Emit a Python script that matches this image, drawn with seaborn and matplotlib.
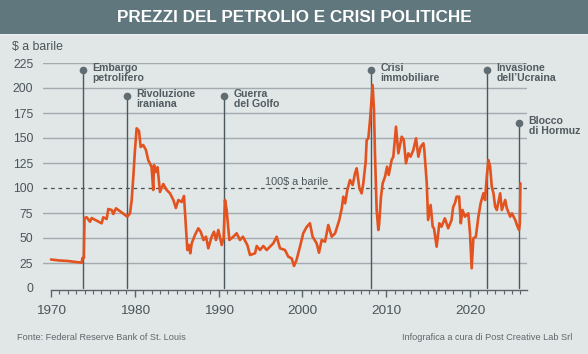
import matplotlib
matplotlib.use("Agg")
import matplotlib.pyplot as plt
from matplotlib.patches import Rectangle
from matplotlib.ticker import MultipleLocator
import seaborn as sns

years = [1970.0, 1971.0, 1972.0, 1973.0, 1973.66, 1973.75, 1973.92, 1974.0,
         1974.26, 1974.65, 1974.85, 1976.04, 1976.24, 1976.64, 1976.84, 1977.24,
         1977.44, 1977.76, 1979.0, 1979.11, 1979.43, 1979.63, 1979.82, 1980.02,
         1980.22, 1980.5, 1980.7, 1981.0, 1981.33, 1981.6, 1982.0, 1982.2,
         1982.29, 1982.53, 1982.72, 1983.0, 1983.4, 1983.8, 1984.2, 1984.6,
         1984.9, 1985.2, 1985.6, 1985.87, 1986.1, 1986.27, 1986.45, 1986.62,
         1986.79, 1987.18, 1987.58, 1987.86, 1988.2, 1988.5, 1988.77, 1989.17,
         1989.45, 1989.69, 1989.97, 1990.37, 1990.6, 1990.76, 1990.96, 1991.28,
         1991.76, 1992.15, 1992.55, 1992.9, 1993.43, 1993.75, 1994.35, 1994.55,
         1994.94, 1995.34, 1995.74, 1996.13, 1996.53, 1996.93, 1997.33, 1997.92,
         1998.32, 1998.71, 1999.0, 1999.3, 1999.71, 2000.1, 2000.5, 2000.9,
         2001.22, 2001.7, 2001.98, 2002.3, 2002.7, 2003.09, 2003.5, 2003.9,
         2004.4, 2004.7, 2004.88, 2005.1, 2005.36, 2005.68, 2006.0, 2006.28,
         2006.48, 2006.8, 2007.07, 2007.27, 2007.55, 2007.67, 2007.87, 2008.07,
         2008.38, 2008.54, 2008.66, 2008.86, 2009.06, 2009.15, 2009.38, 2009.58,
         2009.86, 2010.1, 2010.3, 2010.65, 2010.85, 2011.17, 2011.45, 2011.85,
         2012.1, 2012.36, 2012.64, 2012.9, 2013.24, 2013.56, 2013.84, 2014.12,
         2014.44, 2014.55, 2014.84, 2015.0, 2015.3, 2015.55, 2015.7, 2016.02,
         2016.34, 2016.6, 2017.0, 2017.4, 2017.8, 2018.0, 2018.2, 2018.4,
         2018.7, 2018.9, 2019.1, 2019.4, 2019.8, 2020.0, 2020.2, 2020.4,
         2020.7, 2021.0, 2021.27, 2021.6, 2021.8, 2022.0, 2022.2, 2022.4,
         2022.6, 2022.8, 2023.0, 2023.2, 2023.6, 2023.8, 2024.2, 2024.4,
         2024.8, 2025.0, 2025.4, 2025.6, 2025.85, 2025.95, 2026.02]
prices = [28.5, 27.5, 27, 26, 25.3, 30, 30, 70,
          70.7, 66.3, 70, 64.7, 70.7, 69, 79, 78,
          74, 79.7, 72, 71.3, 74.7, 88, 111, 138,
          159.7, 157, 141, 143, 138, 128, 121, 98,
          123, 116, 120.7, 96, 104, 98, 94.7, 88,
          80, 88, 86, 92, 61, 38, 43, 34.7,
          44.7, 53, 59.7, 56.3, 48, 51.3, 39.7, 51.3,
          56.3, 48, 58, 43, 50, 88, 78, 48,
          51.3, 54.7, 48, 51.3, 43, 33, 34.7, 42,
          38, 42, 38, 41.3, 44.7, 51.3, 39.7, 38,
          31.3, 29.7, 22, 28, 41.3, 54.7, 61, 64.7,
          51.3, 44.7, 35.3, 48, 46.3, 63, 51.3, 54.7,
          68, 79.7, 91.3, 84.7, 98, 108, 103, 114.7,
          119.7, 99.7, 94.7, 104.7, 126.3, 148, 149.7, 168,
          203, 178, 134.7, 78, 58, 63, 91.3, 104.7,
          111.3, 121.3, 113, 128, 131.3, 161.3, 134.7, 151.3,
          148, 124.7, 134.7, 131.3, 138, 149.7, 131.3, 141.3,
          144.7, 138, 104.7, 68, 83, 61.3, 59.7, 41.3,
          64.7, 61.3, 69.7, 59.7, 68, 81.3, 84.7, 91.3,
          91.3, 64.7, 78, 71.3, 74.7, 54.7, 19.7, 49.7,
          51.3, 71.3, 84.7, 94.7, 88, 111.3, 128, 121.3,
          101.3, 94.7, 81.3, 78, 94.7, 78, 88, 79.7,
          71.3, 74.7, 68, 63, 58, 64.7, 104.7]

event_years = [1973.82, 1979.07, 1990.64, 2008.15, 2022.03, 2025.85]
event_tops = [218, 192, 192, 218, 218, 165]
event_labels = ["Embargo\npetrolifero", "Rivoluzione\niraniana", "Guerra\ndel Golfo",
                "Crisi\nimmobiliare", "Invasione\ndell\u2019Ucraina", "Blocco\ndi Hormuz"]

y_ticks = [0, 25, 50, 75, 100, 125, 150, 175, 200, 225]
x_ticks = [1970, 1980, 1990, 2000, 2010, 2020]

BG = "#e1e6e7"
HEADER = "#5f777d"
ORANGE = "#e2531f"
TEXT = "#4b5559"
GRID = "#a3abae"
EVENT = "#4b585d"

sns.set_theme(style="white")
plt.rcParams["font.family"] = ["Liberation Sans", "DejaVu Sans"]

W, H = 588, 354
fig = plt.figure(figsize=(W / 100, H / 100), dpi=100)
fig.patch.set_facecolor(BG)

# header band
fig.add_artist(Rectangle((0, 1 - 34 / H), 1, 34 / H, transform=fig.transFigure,
                         facecolor=HEADER, edgecolor="none"))
fig.add_artist(Rectangle((0, 1 - 35 / H), 1, 1 / H, transform=fig.transFigure,
                         facecolor="#eef1f2", edgecolor="none"))
fig.text(0.5, 1 - 17.5 / H, "PREZZI DEL PETROLIO E CRISI POLITICHE",
         fontweight="bold", fontsize=12.3, color="white", ha="center", va="center")
fig.text(12 / W, 1 - 47 / H, "$ a barile", fontsize=8.8, color=TEXT, va="center")

ax = fig.add_axes([43 / W, 64 / H, 484 / W, 227 / H])
ax.set_facecolor(BG)

px_per_year = 8.38
ax.set_xlim(1970 - 8 / px_per_year, 1970 + 476 / px_per_year)
ax.set_ylim(-2, 225)

for v in y_ticks[1:]:
    if v == 100:
        ax.axhline(v, color="#4a4f52", lw=0.9, ls=(0, (3, 3)), zorder=1)
    else:
        ax.axhline(v, color=GRID, lw=1, zorder=1)
ax.text(1999.3, 106, "100$ a barile", fontsize=7.8, color=TEXT, ha="center", va="center")

# event markers
for x, top, lab in zip(event_years, event_tops, event_labels):
    ax.plot([x, x], [0, top], color=EVENT, lw=1, zorder=2)
    ax.plot(x, top, "o", ms=5.5, color="#5f6c71", mec="none", zorder=4, clip_on=False)
    ax.annotate(lab, (x, top), xytext=(7, 5), textcoords="offset points",
                ha="left", va="top", fontsize=7.6, fontweight="bold", color="#515b60",
                linespacing=0.95, annotation_clip=False)

sns.lineplot(x=years, y=prices, ax=ax, color=ORANGE, linewidth=1.9,
             estimator=None, sort=False, zorder=3)

for s in ["top", "right", "left"]:
    ax.spines[s].set_visible(False)
ax.spines["bottom"].set_bounds(1970, 1970 + 476 / px_per_year)
ax.spines["bottom"].set_color("#5a6468")
ax.spines["bottom"].set_linewidth(1)

ax.set_yticks(y_ticks)
ax.set_xticks(x_ticks)
ax.xaxis.set_minor_locator(MultipleLocator(1))
ax.tick_params(axis="y", length=0, pad=7, labelsize=8.8, labelcolor=TEXT)
ax.tick_params(axis="x", which="major", direction="out", length=5, width=1,
               color="#5a6468", pad=6, labelsize=9.7, labelcolor=TEXT, bottom=True)
ax.tick_params(axis="x", which="minor", direction="out", length=3, width=0.8,
               color="#5a6468", bottom=True)
ax.grid(False)

fig.text(17 / W, 1 - 337 / H, "Fonte: Federal Reserve Bank of St. Louis",
         fontsize=6.6, color="#5f686c", va="center")
fig.text(572 / W, 1 - 337 / H, "Infografica a cura di Post Creative Lab Srl",
         fontsize=6.6, color="#5f686c", va="center", ha="right")

fig.savefig("out.png", dpi=100, facecolor=BG)
